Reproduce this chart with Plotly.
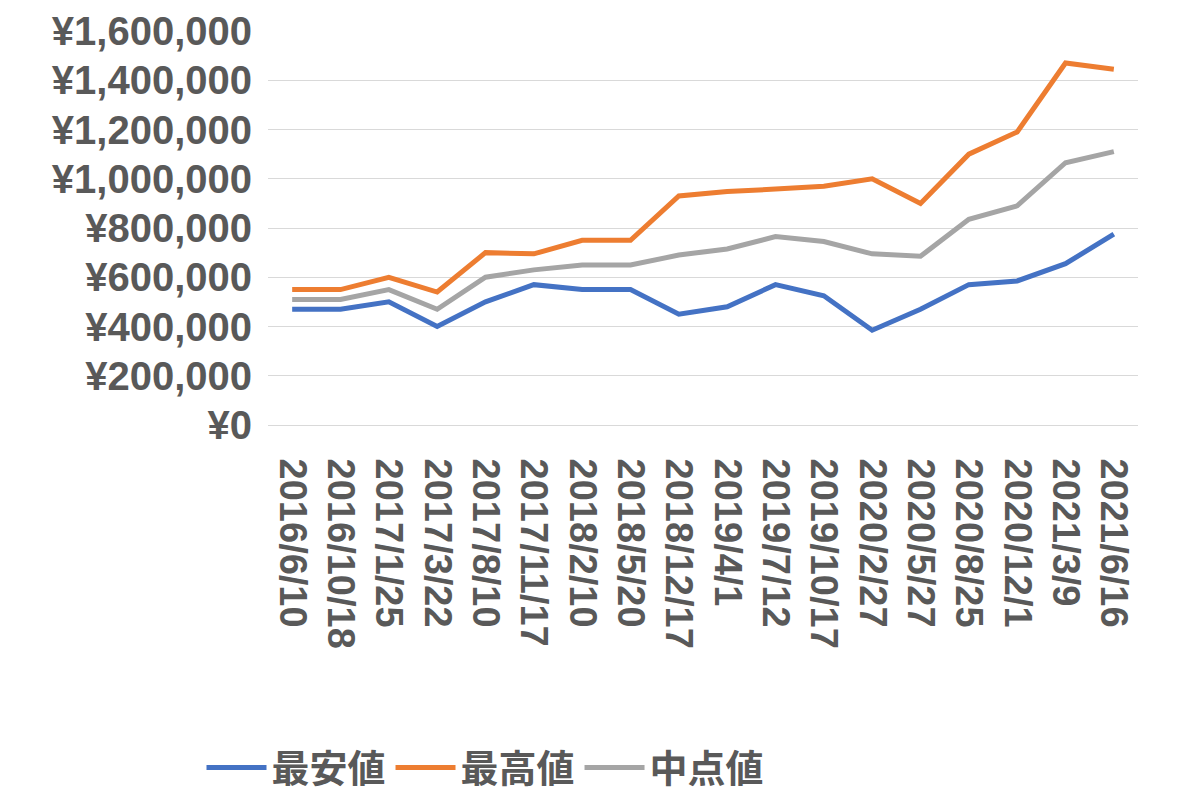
import plotly.graph_objects as go

dates = ["2016/6/10", "2016/10/18", "2017/1/25", "2017/3/22", "2017/8/10", "2017/11/17",
         "2018/2/10", "2018/5/20", "2018/12/17", "2019/4/1", "2019/7/12", "2019/10/17",
         "2020/2/27", "2020/5/27", "2020/8/25", "2020/12/1", "2021/3/9", "2021/6/16"]
low = [470000, 470000, 500000, 400000, 500000, 570000, 550000, 550000, 450000, 480000,
       570000, 525000, 385000, 470000, 570000, 585000, 655000, 775000]
high = [550000, 550000, 600000, 540000, 700000, 695000, 750000, 750000, 930000, 948000,
        958000, 970000, 1000000, 900000, 1100000, 1190000, 1470000, 1445000]
mid = [510000, 510000, 550000, 470000, 600000, 630000, 650000, 650000, 690000, 715000,
       765000, 745000, 695000, 685000, 835000, 890000, 1065000, 1110000]

fig = go.Figure()
for name, vals, color in [("最安値", low, "#4472C4"), ("最高値", high, "#ED7D31"), ("中点値", mid, "#A5A5A5")]:
    fig.add_trace(go.Scatter(x=dates, y=vals, name=name, mode="lines",
                             line=dict(color=color, width=5)))

fig.update_layout(
    width=1197, height=804,
    margin=dict(l=260, r=67, t=23, b=321),
    plot_bgcolor="white", paper_bgcolor="white",
    font=dict(family="Liberation Sans, Noto Sans CJK JP", color="#595959", size=30),
    showlegend=True,
    legend=dict(orientation="h", x=0.25, xanchor="center", y=-0.87, yanchor="middle",
                font=dict(size=38, family="Noto Sans CJK JP", weight="bold"),
                itemwidth=60),
    xaxis=dict(tickangle=90, tickfont=dict(size=38, weight="bold"), showgrid=False,
               showline=True, linecolor="#D9D9D9", ticks="", range=[-0.5, 17.5],
               automargin=False, ticklabelstandoff=25),
    yaxis=dict(range=[0, 1600000], dtick=200000, tickprefix="¥", tickformat=",d",
               tickfont=dict(size=40, weight="bold"), gridcolor="#D9D9D9",
               zeroline=False, ticks="", automargin=False, ticklabelstandoff=15),
)

fig.write_html("out.html")
